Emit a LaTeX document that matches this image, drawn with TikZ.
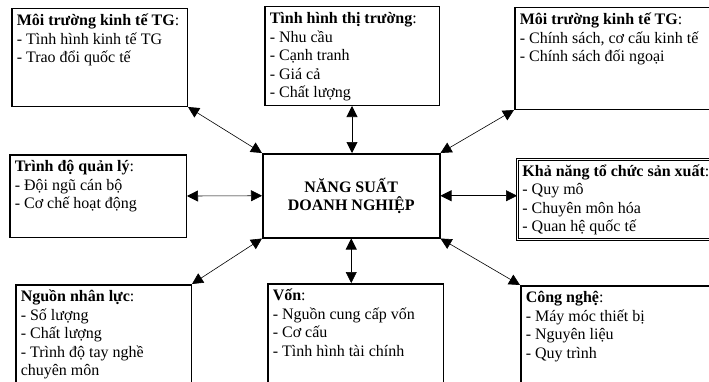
\documentclass[tikz,border=0pt]{standalone}
\usepackage{fontspec}
\setmainfont{Liberation Serif}
\usepackage{tikz}
\usetikzlibrary{arrows.meta,positioning}
\newcommand{\factlist}[3]{\parbox[c][#2][t]{#1}{\raggedright\strut #3}}

\begin{document}
\begin{tikzpicture}[x=1pt, y=1pt, font=\fontsize{16pt}{18.5pt}\selectfont,
  fact/.style={rectangle, draw=black, line width=1.5pt, inner xsep=5pt, inner ysep=4pt, anchor=north west},
  core/.style={rectangle, draw=black, line width=1.5pt, minimum width=177pt, minimum height=84pt, align=center, anchor=north west, font=\fontsize{16pt}{18pt}\selectfont\bfseries},
  dbl/.style={draw=black, line width=0.8pt, double, double distance=0.9pt},
  link/.style={{Triangle[length=11pt,width=11pt]}-{Triangle[length=11pt,width=11pt]}, line width=0.6pt, draw=black}]
\useasboundingbox (0,0) rectangle (709,381);
\clip (0,0) rectangle (709,381);
% centre
\node[core] (ctr) at (262,228) {NĂNG SUẤT\\DOANH NGHIỆP};
% top row
\node[fact] (tl) at (11,373) {\factlist{165.5pt}{89.5pt}{\textbf{Môi trường kinh tế TG}:\\- Tình hình kinh tế TG\\- Trao đổi quốc tế}};
\node[fact] (tc) at (264,375) {\factlist{164.5pt}{90.5pt}{\textbf{Tình hình thị trường}:\\- Nhu cầu\\- Cạnh tranh\\- Giá cả\\- Chất lượng}};
\node[fact] (tr) at (514,374) {\factlist{215pt}{93.5pt}{\textbf{Môi trường kinh tế TG}:\\- Chính sách, cơ cấu kinh tế\\- Chính sách đối ngoại}};
% middle row
\node[fact] (ml) at (9,227) {\factlist{166.5pt}{74.5pt}{\textbf{Trình độ quản lý}:\\- Đội ngũ cán bộ\\- Cơ chế hoạt động}};
\node[fact, dbl] (mr) at (517,222) {\factlist{215pt}{72pt}{\textbf{Khả năng tổ chức sản xuất}:\\- Quy mô\\- Chuyên môn hóa\\- Quan hệ quốc tế}};
% bottom row
\node[fact] (bl) at (15,97) {\factlist{165.5pt}{110pt}{\textbf{Nguồn nhân lực}:\\- Số lượng\\- Chất lượng\\- Trình độ tay nghề\\chuyên môn}};
\node[fact] (bc) at (267,98) {\factlist{165.5pt}{110pt}{\textbf{Vốn}:\\- Nguồn cung cấp vốn\\- Cơ cấu\\- Tình hình tài chính}};
\node[fact] (br) at (520,96) {\factlist{215pt}{110pt}{\textbf{Công nghệ}:\\- Máy móc thiết bị\\- Nguyên liệu\\- Quy trình}};
% links
\draw[link] (tl.south east) -- (ctr.north west);
\draw[link] (tc.south) -- (tc.south |- ctr.north);
\draw[link] (tr.south west) -- (ctr.north east);
\draw[link] (ml.east) -- (ctr.west);
\draw[link] (ctr.east) -- (ctr.east -| mr.west);
\draw[link] (bl.north east) -- (ctr.south west);
\draw[link] (ctr.south) -- (ctr.south |- bc.north);
\draw[link] (ctr.south east) -- (br.north west);
\end{tikzpicture}
\end{document}
